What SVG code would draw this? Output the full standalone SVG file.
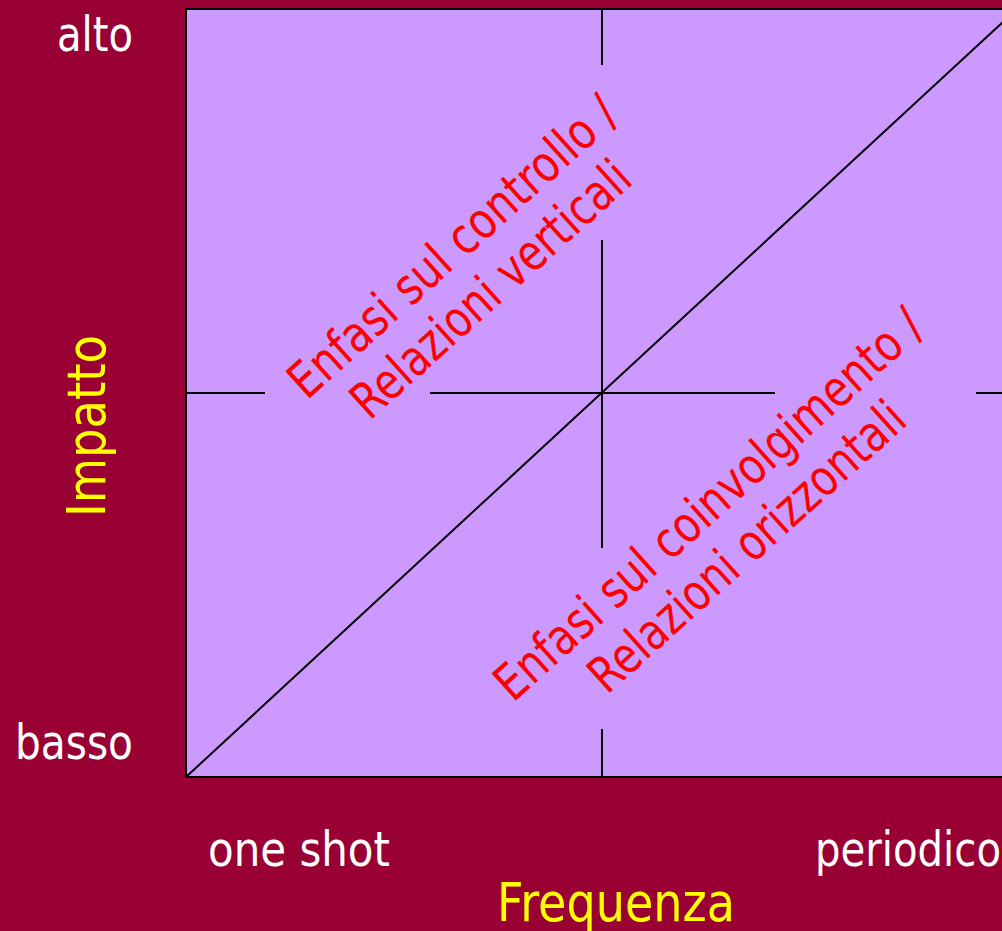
<svg xmlns="http://www.w3.org/2000/svg" width="1002" height="931" viewBox="0 0 1002 931">
<style>
text{font-family:"DejaVu Sans","Liberation Sans",sans-serif;}
.w{fill:#ffffff;font-size:48px;}
.y{fill:#ffff00;font-size:53px;}
.r{fill:#ff0000;font-size:50px;text-anchor:middle;}
.ln{stroke:#000;stroke-width:2;fill:none;}
</style>
<rect x="0" y="0" width="1002" height="931" fill="#990033"/>
<g id="plot">
<rect x="186" y="9" width="840" height="768" fill="#cc99ff" stroke="#000" stroke-width="2"/>
</g>
<g id="connectors">
<line class="ln" x1="602" y1="10" x2="602" y2="65"/>
<line class="ln" x1="602" y1="240" x2="602" y2="548"/>
<line class="ln" x1="602" y1="729" x2="602" y2="777"/>
<line class="ln" x1="186" y1="393" x2="265" y2="393"/>
<line class="ln" x1="430" y1="393" x2="775" y2="393"/>
<line class="ln" x1="976" y1="393" x2="1002" y2="393"/>
<line class="ln" x1="186" y1="777" x2="1017" y2="9" stroke-width="1.6"/>
</g>
<g id="label-alto"><text class="w" x="57" y="51" textLength="76" lengthAdjust="spacingAndGlyphs">alto</text></g>
<g id="label-basso"><text class="w" x="15" y="759" textLength="118" lengthAdjust="spacingAndGlyphs">basso</text></g>
<g id="label-impatto"><text class="y" transform="translate(105,426) rotate(-90)" x="0" y="0" text-anchor="middle" textLength="182" lengthAdjust="spacingAndGlyphs">Impatto</text></g>
<g id="label-oneshot"><text class="w" x="208" y="866" textLength="182" lengthAdjust="spacingAndGlyphs">one shot</text></g>
<g id="label-periodico"><text class="w" x="815" y="866" textLength="186" lengthAdjust="spacingAndGlyphs">periodico</text></g>
<g id="label-frequenza"><text class="y" x="497" y="921" textLength="238" lengthAdjust="spacingAndGlyphs">Frequenza</text></g>
<g id="label-controllo" transform="translate(464,259.5) rotate(-42)">
<text class="r" x="0" y="0" textLength="423" lengthAdjust="spacingAndGlyphs">Enfasi sul controllo /</text>
<text class="r" x="0" y="57" textLength="357" lengthAdjust="spacingAndGlyphs">Relazioni verticali</text>
</g>
<g id="label-coinvolgimento" transform="translate(720,517) rotate(-42)">
<text class="r" x="0" y="0" textLength="557" lengthAdjust="spacingAndGlyphs">Enfasi sul coinvolgimento /</text>
<text class="r" x="0" y="57" textLength="407" lengthAdjust="spacingAndGlyphs">Relazioni orizzontali</text>
</g>
</svg>
